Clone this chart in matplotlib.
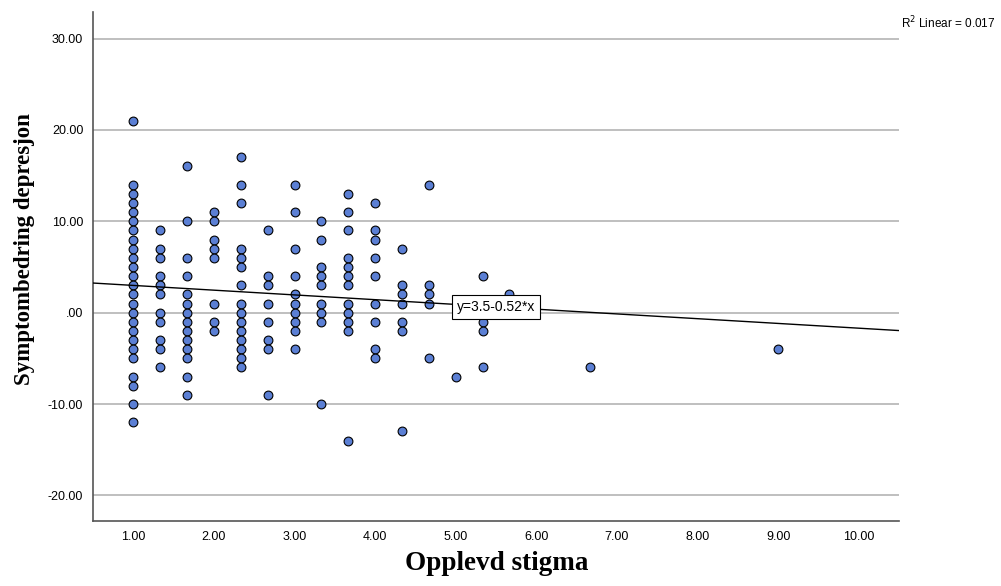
import matplotlib
matplotlib.use("Agg")
import matplotlib.pyplot as plt
import numpy as np

# Data (x = Opplevd stigma, y = Symptombedring depresjon)
col_x = [1.0, 4/3, 5/3, 2.0, 7/3, 8/3, 3.0, 10/3, 11/3, 4.0, 13/3, 14/3, 5.0, 16/3, 17/3, 20/3, 9.0]
col_y = [
    [21] + list(range(14, -6, -1)) + [-7, -8, -10, -12],
    [9, 7, 6, 4, 3, 2, 0, -1, -3, -4, -6],
    [16, 10, 6, 4, 2, 1, 0, -1, -2, -3, -4, -5, -7, -9],
    [11, 10, 8, 7, 6, 1, -1, -2],
    [17, 14, 12, 7, 6, 5, 3, 1, 0, -1, -2, -3, -4, -5, -6],
    [9, 4, 3, 1, -1, -3, -4, -9],
    [14, 11, 7, 4, 2, 1, 0, -1, -2, -4],
    [10, 8, 5, 4, 3, 1, 0, -1, -10],
    [13, 11, 9, 6, 5, 4, 3, 1, 0, -1, -2, -14],
    [12, 9, 8, 6, 4, 1, -1, -4, -5],
    [7, 3, 2, 1, -1, -2, -13],
    [14, 3, 2, 1, -5],
    [-7],
    [4, -1, -2, -6],
    [2],
    [-6],
    [-4],
]
intercept = 3.5
slope = -0.52
r2_text = "R$^2$ Linear = 0.017"
eq_text = "y=3.5-0.52*x"
x_ticks = [1, 2, 3, 4, 5, 6, 7, 8, 9, 10]
y_ticks = [-20, -10, 0, 10, 20, 30]
xlabel = "Opplevd stigma"
ylabel = "Symptombedring depresjon"

xs = np.concatenate([[cx] * len(cy) for cx, cy in zip(col_x, col_y)])
ys = np.concatenate([np.array(cy, dtype=float) for cy in col_y])

fig = plt.figure(figsize=(10.01, 5.86), dpi=100)
ax = fig.add_axes([93/1001, 1 - 521/586, (899-93)/1001, (521-12)/586])

xlim = (0.5, 10.5)
ax.set_xlim(*xlim)
ax.set_ylim(-22.8, 32.9)

for yv in y_ticks:
    ax.axhline(yv, color="#b4b4b4", lw=1.2, zorder=1)

ax.scatter(xs, ys, s=40, facecolor="#5b7fd4", edgecolor="black", linewidth=0.8, zorder=3)

lx = np.array(xlim)
ax.plot(lx, intercept + slope * lx, color="black", lw=1.0, zorder=4, clip_on=True)

xm = sum(xlim) / 2
ax.text(xm, intercept + slope * xm, eq_text, ha="center", va="center", fontsize=10,
        family="Liberation Sans", zorder=5,
        bbox=dict(boxstyle="square,pad=0.35", facecolor="white", edgecolor="black", linewidth=0.8))

ax.set_xticks(x_ticks)
ax.set_xticklabels([f"{v:.2f}" for v in x_ticks])
ax.set_yticks(y_ticks)
ax.set_yticklabels([f"{v:.2f}" if v != 0 else ".00" for v in y_ticks])
ax.tick_params(length=0, labelsize=9, pad=7)
for lab in ax.get_xticklabels() + ax.get_yticklabels():
    lab.set_family("Liberation Sans")

for s in ["top", "right"]:
    ax.spines[s].set_visible(False)
for s in ["left", "bottom"]:
    ax.spines[s].set_color("#555555")
    ax.spines[s].set_linewidth(1.2)

fig.text(0.5 - 0.004, 1 - 563/586, xlabel, ha="center", va="center", fontsize=19.5,
         fontweight="bold", family="Liberation Serif")
fig.text(25/1001, 1 - 249/586, ylabel, ha="center", va="center", rotation=90, fontsize=16.5,
         fontweight="bold", family="Liberation Serif")
fig.text(901/1001, 1 - 23/586, r2_text, ha="left", va="center", fontsize=8.5,
         family="Liberation Sans")

fig.savefig("out.png", dpi=100)
